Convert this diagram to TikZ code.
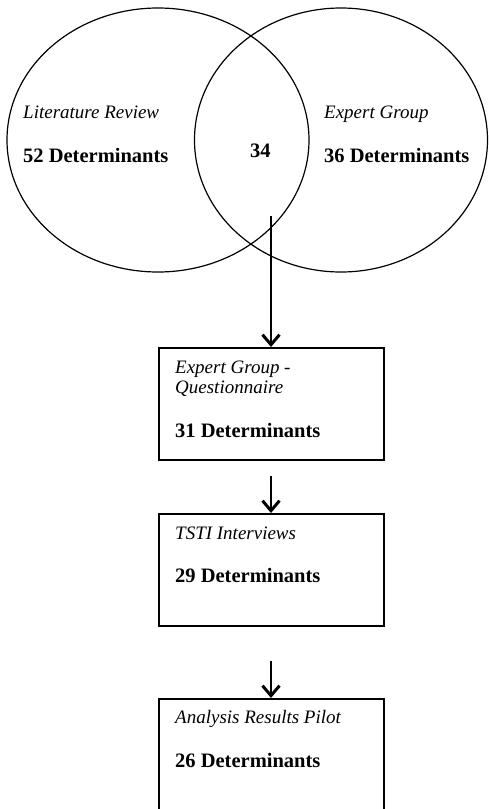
\documentclass[tikz,border=0pt]{standalone}
\usepackage{fontspec}
\setmainfont{Liberation Serif}
\usetikzlibrary{shapes.geometric,arrows.meta}
\begin{document}
\begin{tikzpicture}[x=1pt,y=-1pt,
  set/.style={draw,ellipse,line width=1.2pt,inner sep=0pt},
  stagebox/.style={draw,rectangle,line width=1.7pt,inner sep=0pt,anchor=north west},
  lbl/.style={anchor=base west,inner sep=0pt,font=\fontsize{19}{22}\selectfont\itshape},
  num/.style={anchor=base west,inner sep=0pt,font=\fontsize{20.5}{24}\selectfont\bfseries},
  flow/.style={line width=1.7pt,-{Straight Barb[length=10pt,width=17pt,line width=3pt]}}]
\clip (0,0) rectangle (488,809);
\fill[white] (0,0) rectangle (488,809);

% two overlapping sets
\node[set,minimum width=302pt,minimum height=264pt] (lit) at (158,140) {};
\node[set,minimum width=293pt,minimum height=264pt] (exp) at (341,140) {};

\node[lbl] (litname) at (23,118) {Literature Review};
\node[num] (litnum) at (23,162) {52 Determinants};
\node[num] (both) at (250,157) {34};
\node[lbl] (expname) at (324,118) {Expert Group};
\node[num] (expnum) at (324,162) {36 Determinants};

% stages
\node[stagebox,minimum width=225pt,minimum height=112pt] (q) at (158,347) {};
\node[stagebox,minimum width=225pt,minimum height=112pt] (tsti) at (158,513) {};
\node[stagebox,minimum width=225pt,minimum height=140pt] (pilot) at (158,698) {};

\node[lbl] (qname1) at (175,373) {Expert Group -};
\node[lbl] (qname2) at (175,393) {Questionnaire};
\node[num] (qnum) at (175,437) {31 Determinants};
\node[lbl] (tname) at (175,539) {TSTI Interviews};
\node[num] (tnum) at (175,582) {29 Determinants};
\node[lbl] (pname) at (175,723) {Analysis Results Pilot};
\node[num] (pnum) at (175,767) {26 Determinants};

% connectors
\coordinate (start) at (271,216);
\coordinate (s2) at (271,476);
\coordinate (s3) at (271,661);
\draw[flow] (start) -- (start |- q.north);
\draw[flow] (s2) -- (s2 |- tsti.north);
\draw[flow] (s3) -- (s3 |- pilot.north);
\end{tikzpicture}
\end{document}
